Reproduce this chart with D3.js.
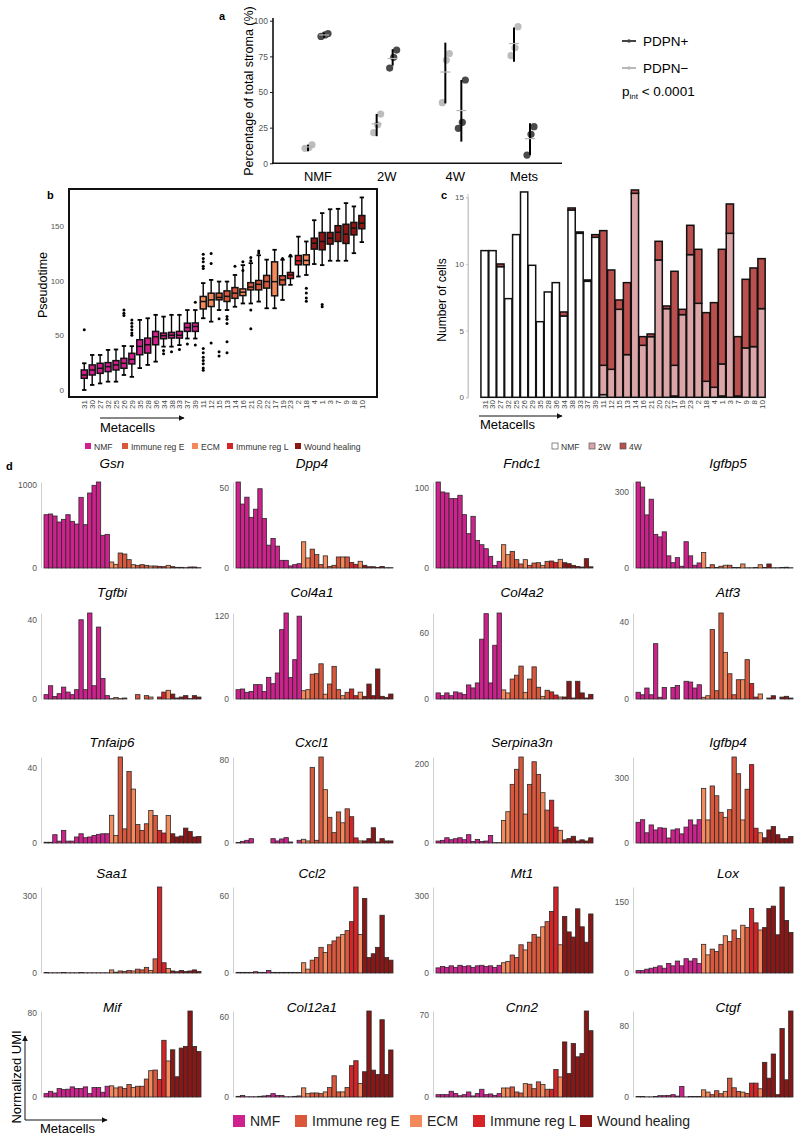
<!DOCTYPE html>
<html><head><meta charset="utf-8">
<script src="https://cdn.jsdelivr.net/npm/d3@7"></script>
<style>body{margin:0;background:#fff} text{font-family:"Liberation Sans",Arial,sans-serif}</style>
</head><body><svg id="c" width="800" height="1138"></svg>
<script>
// ---------------- Panel a data ----------------
const aGroups = ["NMF","2W","4W","Mets"];
const aSeries = ["PDPN+","PDPN\u2212"];
const aYTicks = [0,25,50,75,100];
const aPointsNeg = [[10.5,11,13],[21.5,27,34.5],[42.5,72.4,77],[75.5,81,95.8]];
const aPointsPos = [[89,90,91],[66.8,74.3,79.4],[24.5,28.7,58.4],[5.8,20.3,25.7]];
const aMeanNeg = [11.5,27.7,64,84];
const aMeanPos = [90,73.5,37,17.3];
const aErrNeg = [[8.5,13],[19,34.6],[42,84.6],[71.3,95.3]];
const aErrPos = [[88,91.5],[68.5,80],[15.2,58.4],[5.8,28]];

// ---------------- Metacells / groups ----------------
const metacells = ["31","30","27","32","25","26","29","35","28","36","34","38","33","37","39","11","12","15","13","14","16","21","20","22","17","19","23","2","18","4","1","3","7","9","8","10"];
const groupNames = ["NMF","Immune reg E","ECM","Immune reg L","Wound healing"];
const groupColors = ["#cf218d","#d9573b","#f48a5c","#d42428","#8a1616"];
const metaGroup = ["NMF","NMF","NMF","NMF","NMF","NMF","NMF","NMF","NMF","NMF","NMF","NMF","NMF","NMF","NMF",
  "ECM","ECM","Immune reg E","Immune reg E","Immune reg E","ECM","Immune reg E","Immune reg E","Immune reg E","ECM","Immune reg E",
  "Immune reg L","Immune reg L","ECM","Wound healing","Wound healing","Wound healing","Wound healing","Wound healing","Wound healing","Wound healing"];

// ---------------- Panel b data (pseudotime boxplots) ----------------
const bYTicks = [0,50,100,150];
const bMedian = [13.7,18.3,19.8,21.3,22.9,24.4,28,39.8,41.3,48.6,49.6,50,50,57,58,80.8,82.3,84.5,85.5,88.4,89.3,94,96.5,99,98.9,100.5,105,118,118.3,134,135.6,138.6,144,142.3,147.8,152.3];
const bQ1 = [10.7,13.7,15.2,16.8,18.3,19.8,23.8,32.2,33.7,41.3,46.8,47.4,47.4,53.5,53.5,74,76.2,82.3,80.8,83.7,86.2,91.4,91.4,93,86,96,101.8,114.3,114.3,128.6,128,133.2,135.6,133.8,141.6,147.2];
const bQ3 = [18.3,22.9,24.4,25,26.8,28.9,33.5,45.9,47.4,53.5,52,52.6,53.5,61,61.2,85.4,88.4,88.4,90.5,93.5,92.3,98,100,104.6,117,104.3,107.3,122.8,123.4,138.6,143.8,143.8,150,151.3,153,159.3];
const bWhiskLo = [0,4.6,6,7.6,7.6,13.7,12,20,22.9,25.9,39.6,39.6,41,47,47,65.5,62.4,73,73,76,79,79,80.7,74.6,74.6,82.2,96,103.6,105,115,114,118,118,118,124.9,135];
const bWhiskHi = [24.4,32,32,36.6,37,40.2,40,64,65.5,68.6,67,68.6,68.6,73,73,97.6,100.5,99,99,105,114,115.8,123,119,128,118.9,121.9,140,135.6,155,161.5,165,165.4,170.6,167.6,175.8];
const bOutliers = [[55],[],[],[],[],[68,70,73],[50,52,55,58,61,64],[],[],[],[36,33],[35],[37],[42],[80,41],
  [124,120,117,113,111,38,34,30,27,24,20,18],[124.6,115.4,43],[65,35,31],[67,64.5,60.7,44,34],[113],[109,117],[118,121,73,56],[125,127],[],[],[120],[123],[],[93,88.5,84,81],[],[78,76],[],[],[],[],[]];

// ---------------- Panel c data (cells per metacell) ----------------
const cYTicks = [0,5,10,15];
const cKeys = ["NMF","2W","4W"];
const cColors = ["#ffffff","#dca5a8","#b9504e"];
const cNMF = [11,11,9.8,7.4,12.2,15.4,9.9,5.67,7.9,8.6,6.1,14.05,12.3,8.7,12.0,0.2,0,0,0,0,0,0,0,0,0.1,0,0,0,0,0,0.1,0,0,0,0,0];
const c2W = [0,0,0,0,0,0,0,0,0,0,0,0,0,0,0,2.2,2.1,6.6,3.2,15.3,3.9,4.55,10.3,6.65,2.3,6.2,10.7,7.05,1.2,0.75,2.4,12.3,0.1,3.7,3.8,6.65];
const c4W = [0,0,0.2,0,0,0,0,0,0,0,0.3,0.15,0.1,0.1,0.2,10.1,7.45,0.7,5.4,0.25,0.65,0.2,1.4,0.2,7.05,0.4,2.2,4.05,5.15,6.35,8.6,2.2,4.45,5.15,5.9,3.75];

// ---------------- Panel d data (normalized UMI per metacell) ----------------
const geneNames = ["Gsn","Dpp4","Fndc1","Igfbp5","Tgfbi","Col4a1","Col4a2","Atf3","Tnfaip6","Cxcl1","Serpina3n","Igfbp4","Saa1","Ccl2","Mt1","Lox","Mif","Col12a1","Cnn2","Ctgf"];
const geneTicks = [1000,50,100,300,40,120,60,40,40,80,200,300,300,60,300,150,80,60,70,80];
const Gsn = [640,648,624,552,584,640,560,528,848,520,900,992,1032,392,404,72,44,180,168,100,40,32,40,32,24,24,20,16,32,16,8,8,4,12,12,4];
const Dpp4 = [53.8,40,44.3,31.7,36.8,49.6,31,14.3,18.5,13.7,4.8,4.8,1.3,2.1,2.7,16.4,6.3,11.8,8.4,2.1,7.6,1,1.7,6.9,6.9,6.9,3.4,2.3,4.2,1.7,0.8,0.8,0.4,1,0.2,0.2];
const Fndc1 = [107,94.6,93.4,86.3,86.3,90.5,66.4,42.7,64.3,34.4,29,24,14.5,3.3,8.3,29,16.6,20.7,10.4,5,10.4,3.3,6.2,6.6,3.3,8.3,8.7,7,10.8,6.6,5.4,3.3,2,1.2,11.6,1.5];
const Igfbp5 = [340,320,210,272,133,123,143,48,21,41,7,104,48,11,20,61,2,13,2,7,11,11,2,2,16,1,1,2,13,2,16,1,1,2,3,1];
const Tgfbi = [2.2,6.7,1.3,2.7,6,3.5,2.2,4.7,40,4.7,43.4,6.7,36.3,10.3,1.7,0.2,0.8,0.2,0.5,0,0,2.2,0,1.7,1,0,1,3.5,4.4,2.5,0.5,1,1.7,0.2,1.7,1];
const Col4a1 = [13.5,14.5,9.7,11,20.8,20.8,11,31.4,22.2,37.7,100.5,124.6,31,57,120,12,13.5,36,36.7,51,7,21.7,47.3,13.5,4.8,9.7,14.5,4.8,10,3.9,21.7,4.8,43.5,3.9,2.4,7.2];
const Col4a2 = [5.5,3,5.5,3,6.4,5.5,4,12.7,10,14.5,54,77,14.5,48.5,77.6,8.2,5.5,18,21.5,29.7,6,18,29,10.6,2.4,7.9,6.4,3.6,1.8,1.8,16,0.9,16,5.5,0.9,4.2];
const Atf3 = [3.5,2.2,5.7,2.2,28.7,0.9,6,0,6,7,0,9.2,8.8,5.7,7.4,0.9,1.7,36,4.3,44.6,24.2,13.1,2.2,10,10,20.4,8,1,2.6,0,0.5,1.7,0,1,1.4,0.5];
const Tnfaip6 = [0.4,0.4,4.4,1,6.7,1,1,3.2,4.9,2.8,3.2,4,4.6,4.9,4.9,14.7,4,45.6,7.5,37.9,28.6,9.8,6.7,10.2,17.2,14.6,6.7,5.3,14.6,4.9,3.2,3.7,7.9,6.1,3.2,3.5];
const Cxcl1 = [0.5,1.6,2.6,4.2,0,0,0,0,4.2,2,3.9,5.2,1,0,2.6,3.6,2,73,2.6,83,51.5,24.8,10,30,19.5,33,25.4,4.9,2,2,4.2,14.7,1,4.2,2,2];
const Serpina3n = [5,6.7,13.3,8.3,10.8,13.3,8.3,21,4,9,4,5,19,1,1,57,79,148,186,217,73,148,205,173,127,83,108,40,32,8,11,17,5,8,5,13];
const Igfbp4 = [95,107,47,83,60,70,68,23,60,65,42,73,106,83,107,251,106,262,217,141,118,153,395,318,106,247,360,68,47,24,60,76,38,20,20,30];
const Saa1 = [2,1,1,1,2,1,1,1,2,1,1,1,1,1,1,12,3,8,6,10,8,15,12,22,10,55,335,40,18,8,5,10,6,8,12,6];
const Ccl2 = [0.5,0.5,0.5,0.5,1,0.5,0.5,2,0.5,0.5,0.5,0.5,0.5,0.5,0.5,8,3,10,12,20,16,22,25,28,30,33,40,67,30,58,12,15,20,45,12,10];
const Mt1 = [20,25,22,28,22,30,25,28,22,28,30,25,28,22,30,40,45,70,60,110,90,120,150,140,180,200,240,335,110,220,160,140,250,180,120,230];
const Lox = [5,5,8,10,12,15,10,20,15,25,15,30,25,30,20,60,38,50,45,60,78,66,90,72,100,95,135,105,90,95,135,140,80,180,110,85];
const Mif = [3.2,5.4,3.8,8,7,7.4,9.6,8,8,9.6,3.2,9,9,4.5,10.2,10.6,8.6,9.6,8,11.8,9,10.2,10.2,17,25,25.6,16.6,53.8,34.2,44.8,19.2,46.4,48,81.6,48,43.2];
const Col12a1 = [0.5,1.2,0.2,0.2,0.2,0.5,0.8,1.2,2.5,1.2,1.2,0.2,0.2,0.5,0.8,6.8,2.5,3,3,2.5,3.8,7,15.8,3.8,3.8,7,23.3,27,10,18.8,64,20,16.8,57.5,16.8,35];
const Cnn2 = [2,2,2,4.9,2.9,1.1,2,4.3,0.9,2.9,6.6,2,2.6,1.4,2.9,7.7,7.7,8.6,4.3,3.4,11.4,10.9,7.1,12.9,10.6,6.6,6.6,23.4,17.1,47,20,45.7,34.3,37.1,73.4,56.6];
const Ctgf = [0.5,0.5,0.2,0.2,0.5,1.5,1.5,1.8,2.6,1,11.8,0.2,0.5,0.5,0.5,8,5.5,2.6,7,3.7,6.3,21,10.3,6.3,5.5,4,15.5,15.5,9.2,38.7,21,48,2.6,76.4,19.2,96];
const geneValues = [Gsn,Dpp4,Fndc1,Igfbp5,Tgfbi,Col4a1,Col4a2,Atf3,Tnfaip6,Cxcl1,Serpina3n,Igfbp4,Saa1,Ccl2,Mt1,Lox,Mif,Col12a1,Cnn2,Ctgf];

// ================= drawing =================
const svg = d3.select("#c");
svg.append("rect").attr("width",800).attr("height",1138).attr("fill","#fff");
const defs = svg.append("defs");
defs.append("marker").attr("id","arr").attr("viewBox","0 0 10 10").attr("refX",9).attr("refY",5)
  .attr("markerWidth",6).attr("markerHeight",6).attr("orient","auto")
  .append("path").attr("d","M0,0L10,5L0,10Z").attr("fill","#111");
const gColor = d3.scaleOrdinal().domain(groupNames).range(groupColors);
function label(t,x,y){svg.append("text").attr("x",x).attr("y",y).attr("font-size",11).attr("font-weight","bold").text(t);}

// ---------- Panel a ----------
label("a",219,20);
const ya = d3.scaleLinear().domain([0,100]).range([163.3,20.7]);
const xa = d3.scalePoint().domain(aGroups).range([316,522]);
const gA = svg.append("g");
const axA = gA.append("g").attr("transform","translate(273,0)").call(d3.axisLeft(ya).tickValues(aYTicks).tickSize(3).tickPadding(2));
axA.select(".domain").remove();
axA.selectAll("text").attr("font-size",8.5).attr("fill","#555");
axA.selectAll("line").attr("stroke","#222");
gA.append("line").attr("x1",273).attr("x2",273).attr("y1",18).attr("y2",164).attr("stroke","#111").attr("stroke-width",1.6);
gA.append("line").attr("x1",272).attr("x2",562).attr("y1",163.3).attr("y2",163.3).attr("stroke","#111").attr("stroke-width",1.6);
gA.selectAll("text.xl").data(aGroups).enter().append("text").attr("x",d=>xa(d)+2).attr("y",181)
  .attr("text-anchor","middle").attr("font-size",13).text(d=>d);
gA.append("text").attr("transform","translate(253,91) rotate(-90)").attr("text-anchor","middle").attr("font-size",12.5).text("Percentage of total stroma (%)");
const jit = [-3,1,4];
const seriesDefs = [
  {pts:aPointsNeg, mean:aMeanNeg, err:aErrNeg, off:-8, col:"#bdbdbd"},
  {pts:aPointsPos, mean:aMeanPos, err:aErrPos, off:8, col:"#4a4a4a"}];
seriesDefs.forEach(s=>{
  aGroups.forEach((g,i)=>{
    const cx = xa(g)+s.off;
    const sorted = s.pts[i].slice().sort((a,b)=>a-b);
    sorted.forEach((v,j)=>{
      gA.append("circle").attr("cx",cx+jit[j]).attr("cy",ya(v)).attr("r",3.6).attr("fill",s.col);
    });
  });
});
seriesDefs.forEach(s=>{
  aGroups.forEach((g,i)=>{
    const cx = xa(g)+s.off;
    gA.append("line").attr("x1",cx).attr("x2",cx).attr("y1",ya(s.err[i][0])).attr("y2",ya(s.err[i][1])).attr("stroke","#000").attr("stroke-width",2);
    gA.append("line").attr("x1",cx-5).attr("x2",cx+5).attr("y1",ya(s.mean[i])).attr("y2",ya(s.mean[i])).attr("stroke","#b5b5b5").attr("stroke-width",1.2);
  });
});
[["PDPN+","#444",41],["PDPN\u2212","#b8b8b8",68]].forEach(([t,c,y])=>{
  gA.append("line").attr("x1",622).attr("x2",636).attr("y1",y).attr("y2",y).attr("stroke",c).attr("stroke-width",2);
  gA.append("circle").attr("cx",629).attr("cy",y).attr("r",1.8).attr("fill",c);
  gA.append("text").attr("x",643).attr("y",y+5).attr("font-size",13.5).text(t);
});
const pt = gA.append("text").attr("x",622).attr("y",96).attr("font-size",13.5);
pt.append("tspan").text("p");
pt.append("tspan").attr("font-size",8).attr("dy",3).text("int");
pt.append("tspan").attr("dy",-3).text(" < 0.0001");

// ---------- Panel b ----------
label("b",47,199);
const yb = d3.scaleLinear().domain([0,150]).range([390,225.7]);
const xb = d3.scaleBand().domain(metacells).range([80.3,365.8]);
const gB = svg.append("g");
gB.append("rect").attr("x",69).attr("y",189).attr("width",308).attr("height",208).attr("fill","none").attr("stroke","#111").attr("stroke-width",2);
const axB = gB.append("g").attr("transform","translate(68,0)").call(d3.axisLeft(yb).tickValues(bYTicks).tickSize(0).tickPadding(4));
axB.select(".domain").remove();
axB.selectAll("text").attr("font-size",8).attr("fill","#555");
gB.append("text").attr("transform","translate(47,285) rotate(-90)").attr("text-anchor","middle").attr("font-size",12.5).text("Pseudotime");
const boxW = 6;
metacells.forEach((m,i)=>{
  const cx = xb(m)+xb.bandwidth()/2;
  gB.append("line").attr("x1",cx).attr("x2",cx).attr("y1",yb(bWhiskHi[i])).attr("y2",yb(bQ3[i])).attr("stroke","#000").attr("stroke-width",1.4);
  gB.append("line").attr("x1",cx).attr("x2",cx).attr("y1",yb(bWhiskLo[i])).attr("y2",yb(bQ1[i])).attr("stroke","#000").attr("stroke-width",1.4);
  [bWhiskHi[i],bWhiskLo[i]].forEach(v=>gB.append("line").attr("x1",cx-2.2).attr("x2",cx+2.2).attr("y1",yb(v)).attr("y2",yb(v)).attr("stroke","#000").attr("stroke-width",1.8));
  gB.append("rect").attr("x",cx-boxW/2).attr("width",boxW).attr("y",yb(bQ3[i])).attr("height",yb(bQ1[i])-yb(bQ3[i]))
    .attr("fill",gColor(metaGroup[i])).attr("stroke","#111").attr("stroke-width",1.5);
  gB.append("line").attr("x1",cx-boxW/2).attr("x2",cx+boxW/2).attr("y1",yb(bMedian[i])).attr("y2",yb(bMedian[i])).attr("stroke","#111").attr("stroke-width",1.5);
  bOutliers[i].forEach(v=>gB.append("circle").attr("cx",cx).attr("cy",yb(v)).attr("r",1.5).attr("fill","#000"));
});
gB.selectAll("text.xl").data(metacells).enter().append("text")
  .attr("transform",d=>`translate(${xb(d)+xb.bandwidth()/2+3},400) rotate(-90)`).attr("text-anchor","end")
  .attr("font-size",8).attr("fill","#444").text(d=>d);
gB.append("line").attr("x1",100).attr("x2",184).attr("y1",418).attr("y2",418).attr("stroke","#111").attr("stroke-width",1).attr("marker-end","url(#arr)");
gB.append("text").attr("x",100).attr("y",432).attr("font-size",13).text("Metacells");
const bLegX = [85,122,192,227,295];
groupNames.forEach((g,i)=>{
  gB.append("rect").attr("x",bLegX[i]).attr("y",443).attr("width",6).attr("height",6).attr("fill",groupColors[i]);
  gB.append("text").attr("x",bLegX[i]+9).attr("y",449.5).attr("font-size",8.5).attr("fill","#333").text(g);
});

// ---------- Panel c ----------
label("c",441,199);
const yc = d3.scaleLinear().domain([0,15]).range([397.3,197.3]);
const xc = d3.scaleBand().domain(metacells).range([480.3,765.8]).padding(0.08);
const gC = svg.append("g");
const axC = gC.append("g").attr("transform","translate(468,0)").call(d3.axisLeft(yc).tickValues(cYTicks).tickSize(2).tickPadding(2));
axC.select(".domain").attr("stroke","#c8c8c8");
axC.selectAll("line").attr("stroke","#c8c8c8");
axC.selectAll("text").attr("font-size",8).attr("fill","#555");
gC.append("line").attr("x1",468).attr("x2",468).attr("y1",194).attr("y2",397.3).attr("stroke","#c8c8c8");
gC.append("text").attr("transform","translate(446,300) rotate(-90)").attr("text-anchor","middle").attr("font-size",12).text("Number of cells");
const cTable = metacells.map((m,i)=>({m, NMF:cNMF[i], "2W":c2W[i], "4W":c4W[i]}));
const cStack = d3.stack().keys(cKeys)(cTable);
cStack.forEach((layer,k)=>{
  gC.selectAll(null).data(layer.filter(d=>d[1]-d[0]>0)).enter().append("rect")
    .attr("x",d=>xc(d.data.m)).attr("width",xc.bandwidth())
    .attr("y",d=>yc(d[1])).attr("height",d=>yc(d[0])-yc(d[1]))
    .attr("fill",cColors[k]).attr("stroke","#111").attr("stroke-width",1.5);
});
gC.selectAll("text.xl").data(metacells).enter().append("text")
  .attr("transform",d=>`translate(${xc(d)+xc.bandwidth()/2+3},400) rotate(-90)`).attr("text-anchor","end")
  .attr("font-size",8).attr("fill","#444").text(d=>d);
gC.append("line").attr("x1",479).attr("x2",562).attr("y1",416).attr("y2",416).attr("stroke","#111").attr("stroke-width",1).attr("marker-end","url(#arr)");
gC.append("text").attr("x",480).attr("y",429).attr("font-size",13).text("Metacells");
const cLegX = [552,589,620];
cKeys.forEach((k,i)=>{
  gC.append("rect").attr("x",cLegX[i]).attr("y",443).attr("width",6).attr("height",6).attr("fill",cColors[i]).attr("stroke","#555").attr("stroke-width",0.7);
  gC.append("text").attr("x",cLegX[i]+9).attr("y",449.5).attr("font-size",8.5).attr("fill","#333").text(k);
});

// ---------- Panel d ----------
label("d",6,470);
const colAxisX = [41,233,433,633];
const titleX = [112,312,522,728];
const rowZero = [568,699,843,973,1097];
const rowTitleOff = [105,107,101,100,90];
const barH = 86;
const gD = svg.append("g");
geneNames.forEach((gn,k)=>{
  const col = k%4, row = Math.floor(k/4);
  const vals = geneValues[k];
  const ax = colAxisX[col], z = rowZero[row];
  const x = d3.scaleBand().domain(metacells).range([ax+3, ax+160]);
  const y = d3.scaleLinear().domain([0,d3.max(vals)]).range([z, z-barH]);
  const g = gD.append("g");
  g.append("text").attr("x",titleX[col]).attr("y",z-rowTitleOff[row]+5).attr("text-anchor","middle")
    .attr("font-size",13.5).attr("font-style","italic").text(gn);
  const axis = g.append("g").attr("transform",`translate(${ax},0)`)
    .call(d3.axisLeft(y).tickValues([0,geneTicks[k]]).tickFormat(d3.format("d")).tickSize(0).tickPadding(4));
  axis.select(".domain").attr("stroke","#d0d0d0");
  axis.selectAll("text").attr("font-size",8.5).attr("fill","#555");
  g.selectAll("rect").data(vals).enter().append("rect")
    .attr("x",(d,i)=>x(metacells[i])).attr("width",x.bandwidth())
    .attr("y",d=>y(d)).attr("height",d=>z-y(d))
    .attr("fill",(d,i)=>gColor(metaGroup[i])).attr("stroke","#2a2a2a").attr("stroke-width",0.8);
});
gD.append("line").attr("x1",25).attr("x2",25).attr("y1",1120).attr("y2",1036).attr("stroke","#111").attr("stroke-width",1).attr("marker-end","url(#arr)");
gD.append("line").attr("x1",25).attr("x2",107).attr("y1",1120).attr("y2",1120).attr("stroke","#111").attr("stroke-width",1).attr("marker-end","url(#arr)");
gD.append("text").attr("transform","translate(21,1077) rotate(-90)").attr("text-anchor","middle").attr("font-size",13).text("Normalized UMI");
gD.append("text").attr("x",40).attr("y",1133).attr("font-size",13).text("Metacells");
const dLegX = [233,295,410,473,580];
groupNames.forEach((g,i)=>{
  gD.append("rect").attr("x",dLegX[i]).attr("y",1115).attr("width",12).attr("height",12).attr("fill",groupColors[i]);
  gD.append("text").attr("x",dLegX[i]+17).attr("y",1126).attr("font-size",14).attr("fill","#222").text(g);
});
</script></body></html>
